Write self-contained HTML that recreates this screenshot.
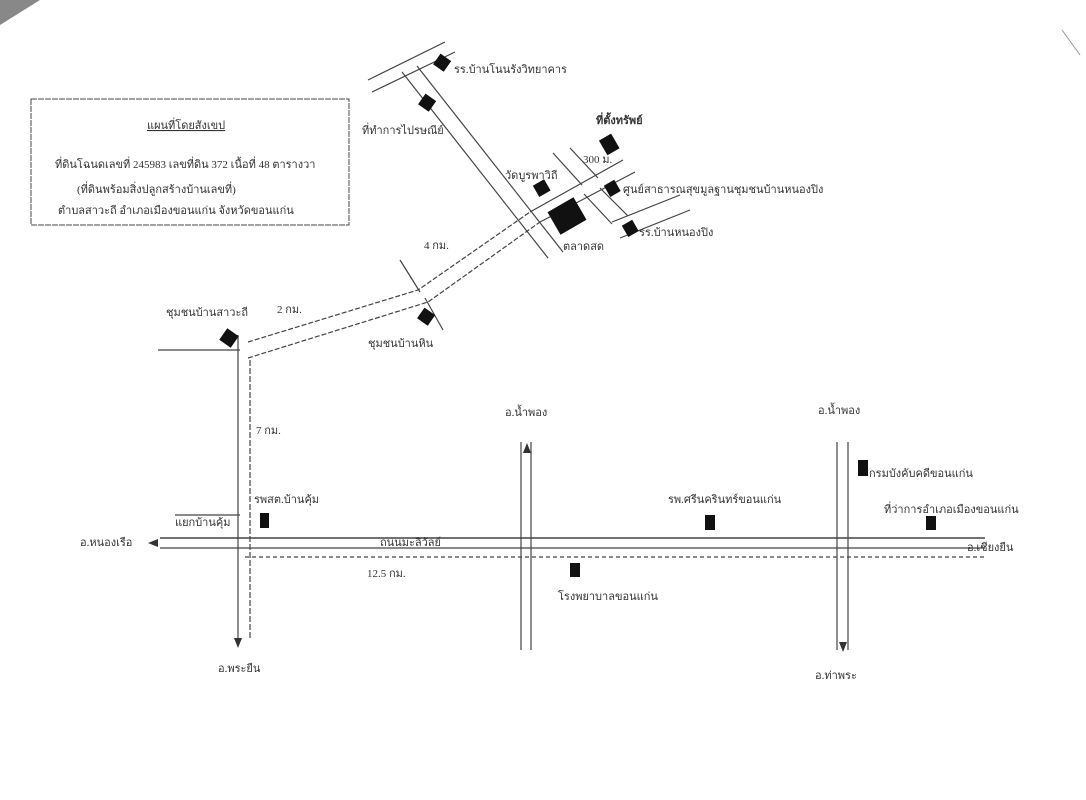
<!DOCTYPE html>
<html><head><meta charset="utf-8"><style>
html,body{margin:0;padding:0;background:#fff;}
svg{display:block;}
text{font-family:"Liberation Serif","Noto Serif CJK SC",serif;fill:#333;font-size:11px;}
</style></head><body>
<svg width="1086" height="800" viewBox="0 0 1086 800" xmlns="http://www.w3.org/2000/svg">
<rect width="1086" height="800" fill="#fff"/>
<path d="M0 0 L40 0 L0 25 Z" fill="#888"/>
<line x1="1062" y1="30" x2="1080" y2="55" stroke="#999" stroke-width="1"/>
<rect x="31" y="99" width="318" height="126" fill="none" stroke="#444" stroke-width="1" stroke-dasharray="6,1"/>
<text x="147" y="129" style="text-decoration:underline">แผนที่โดยสังเขป</text>
<text x="55" y="168">ที่ดินโฉนดเลขที่ 245983 เลขที่ดิน 372 เนื้อที่ 48 ตารางวา</text>
<text x="77" y="193">(ที่ดินพร้อมสิ่งปลูกสร้างบ้านเลขที่)</text>
<text x="58" y="214">ตำบลสาวะถี อำเภอเมืองขอนแก่น จังหวัดขอนแก่น</text>
<g stroke="#444" stroke-width="1.2" fill="none">
<line x1="368" y1="80" x2="445" y2="42"/><line x1="372" y1="92" x2="455" y2="52"/>
<line x1="402" y1="72" x2="548" y2="258"/><line x1="417" y1="66" x2="563" y2="252"/>
<polyline points="248,342 418,290 530,212" stroke-dasharray="5,2"/>
<line x1="530" y1="212" x2="623" y2="160"/>
<polyline points="248,358 428,302 540,222" stroke-dasharray="5,2"/>
<line x1="540" y1="222" x2="635" y2="172"/>
<line x1="553" y1="153" x2="582" y2="185"/><line x1="570" y1="148" x2="598" y2="178"/>
<line x1="584" y1="194" x2="612" y2="224"/><line x1="600" y1="188" x2="628" y2="216"/>
<line x1="612" y1="222" x2="680" y2="195"/><line x1="620" y1="238" x2="690" y2="210"/>
<line x1="400" y1="260" x2="420" y2="292"/><line x1="425" y1="298" x2="443" y2="330"/>
<line x1="158" y1="350" x2="240" y2="350"/>
<line x1="238" y1="335" x2="238" y2="640"/><line x1="250" y1="360" x2="250" y2="640" stroke-dasharray="6,2"/>
<line x1="160" y1="538" x2="985" y2="538" stroke-width="1.6"/>
<line x1="160" y1="548" x2="985" y2="548" stroke-width="1.3"/>
<line x1="245" y1="557" x2="985" y2="557" stroke-dasharray="4,3"/>
<line x1="175" y1="515" x2="240" y2="515"/>
<line x1="521" y1="442" x2="521" y2="650"/><line x1="531" y1="442" x2="531" y2="650"/>
<line x1="837" y1="442" x2="837" y2="650"/><line x1="848" y1="442" x2="848" y2="650"/>
</g>
<polygon points="527,443 523,453 531,453" fill="#333"/>
<polygon points="238,648 234,638 242,638" fill="#333"/>
<polygon points="843,652 839,642 847,642" fill="#333"/>
<polygon points="148,543 158,539 158,547" fill="#333"/>
<g fill="#111">
<rect x="436" y="56" width="13" height="13" transform="rotate(35 442 62)"/>
<rect x="421" y="96" width="13" height="13" transform="rotate(35 427 102)"/>
<rect x="602" y="136" width="14" height="17" transform="rotate(-30 609 144)"/>
<rect x="535" y="182" width="13" height="13" transform="rotate(-30 541 188)"/>
<rect x="606" y="182" width="12" height="13" transform="rotate(-30 612 188)"/>
<rect x="552" y="203" width="30" height="26" transform="rotate(-30 567 216)"/>
<rect x="624" y="222" width="12" height="13" transform="rotate(-30 630 228)"/>
<rect x="222" y="331" width="14" height="14" transform="rotate(35 229 338)"/>
<rect x="420" y="310" width="13" height="13" transform="rotate(35 426 316)"/>
<rect x="260" y="513" width="9" height="15"/>
<rect x="705" y="515" width="10" height="15"/>
<rect x="570" y="563" width="10" height="14"/>
<rect x="858" y="460" width="10" height="16"/>
<rect x="926" y="516" width="10" height="14"/>
</g>
<text x="454" y="73">รร.บ้านโนนรังวิทยาคาร</text>
<text x="362" y="134">ที่ทำการไปรษณีย์</text>
<text x="596" y="124" style="font-weight:bold">ที่ตั้งทรัพย์</text>
<text x="583" y="163">300 ม.</text>
<text x="505" y="179">วัดบูรพาวิถี</text>
<text x="623" y="193">ศูนย์สาธารณสุขมูลฐานชุมชนบ้านหนองปิง</text>
<text x="639" y="236">รร.บ้านหนองปิง</text>
<text x="563" y="250">ตลาดสด</text>
<text x="424" y="249">4 กม.</text>
<text x="166" y="316">ชุมชนบ้านสาวะถี</text>
<text x="277" y="313">2 กม.</text>
<text x="368" y="347">ชุมชนบ้านหิน</text>
<text x="256" y="434">7 กม.</text>
<text x="254" y="503">รพสต.บ้านคุ้ม</text>
<text x="175" y="526">แยกบ้านคุ้ม</text>
<text x="80" y="546">อ.หนองเรือ</text>
<text x="380" y="546">ถนนมะลิวัลย์</text>
<text x="367" y="577">12.5 กม.</text>
<text x="505" y="416">อ.น้ำพอง</text>
<text x="668" y="503">รพ.ศรีนครินทร์ขอนแก่น</text>
<text x="558" y="600">โรงพยาบาลขอนแก่น</text>
<text x="818" y="414">อ.น้ำพอง</text>
<text x="869" y="477">กรมบังคับคดีขอนแก่น</text>
<text x="884" y="513">ที่ว่าการอำเภอเมืองขอนแก่น</text>
<text x="967" y="551">อ.เชียงยืน</text>
<text x="218" y="672">อ.พระยืน</text>
<text x="815" y="679">อ.ท่าพระ</text>
</svg>
</body></html>
